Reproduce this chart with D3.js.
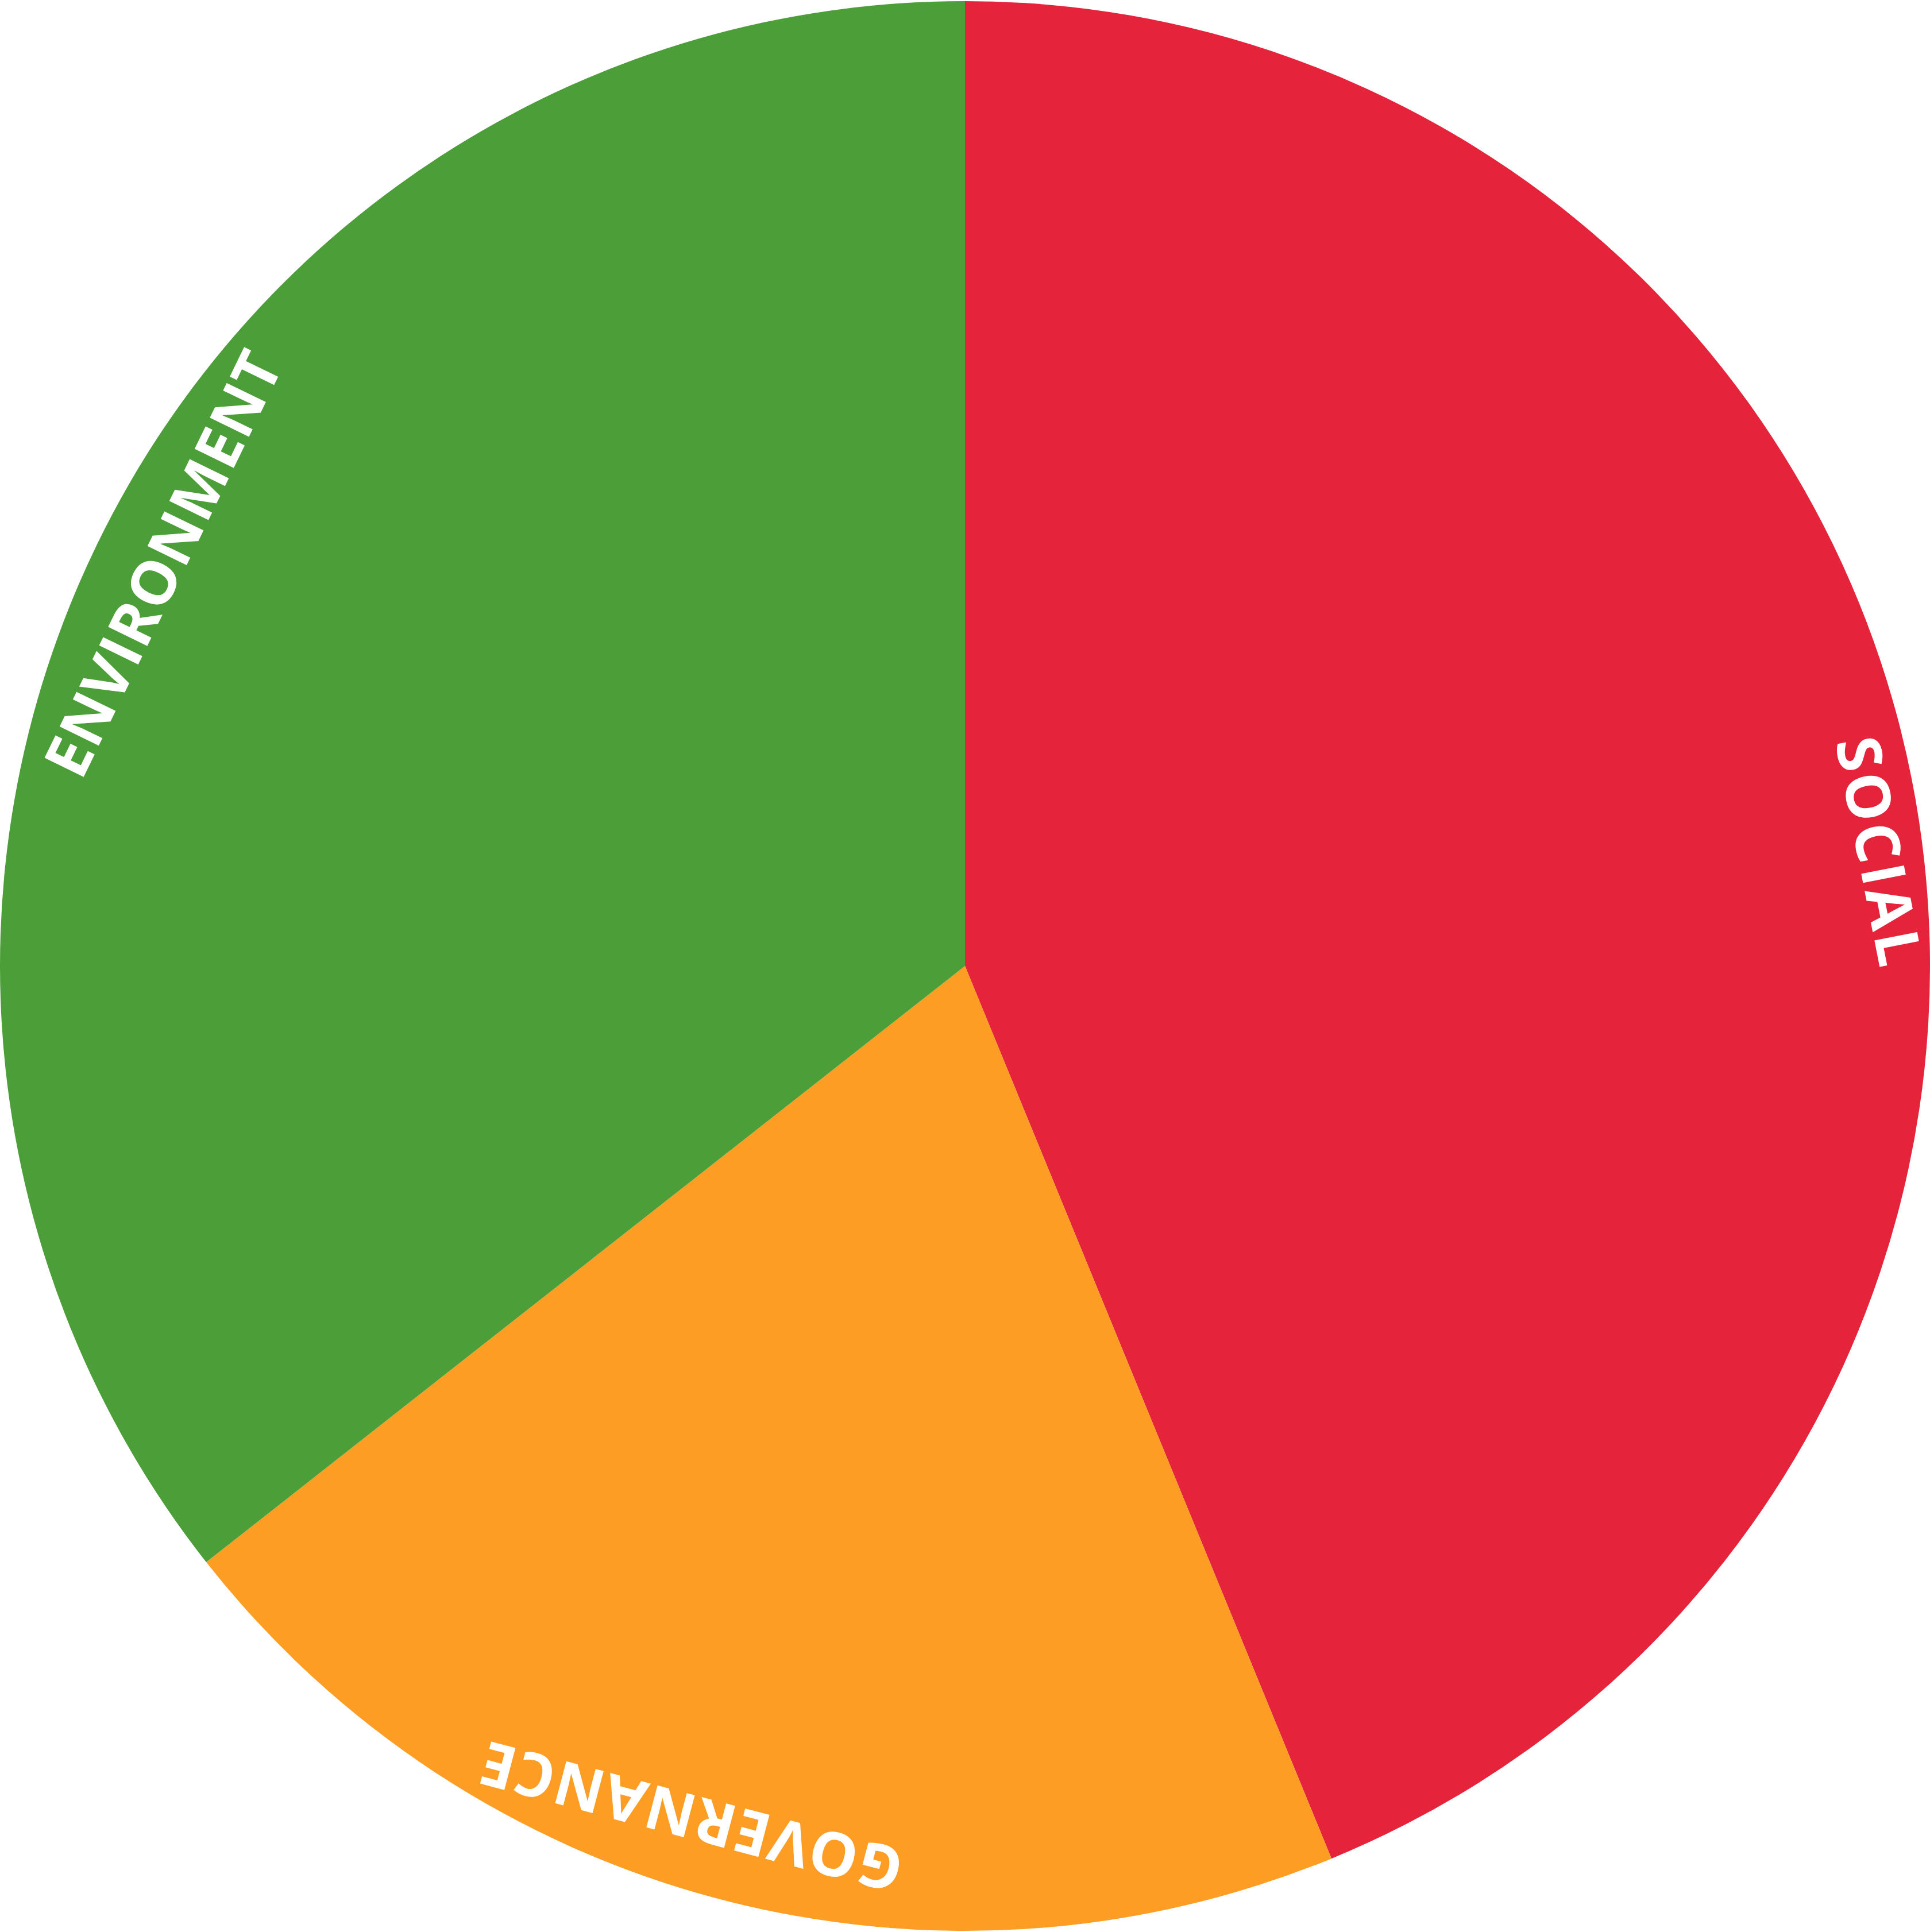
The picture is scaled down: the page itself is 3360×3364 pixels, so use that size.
<!DOCTYPE html>
<html>
<head>
<meta charset="utf-8">
<script src="https://cdn.jsdelivr.net/npm/d3@7"></script>
<style>
  html, body { margin: 0; padding: 0; background: #ffffff; }
  svg { display: block; }
</style>
</head>
<body>
<svg id="chart"></svg>
<script>
// ---- data ----
const categories = ["SOCIAL", "GOVERNANCE", "ENVIRONMENT"];
const values = [43.8, 20.6, 35.6];
const colors = ["#E5243B", "#FD9D24", "#4C9F38"];

// ---- layout / style ----
const W = 3360, H = 3364;
const cx = 1680, cy = 1682, R = 1680;
// label placement tweaks (along-text shift, baseline inset from rim, tracking)
const labelShift = { SOCIAL: 114, GOVERNANCE: 84, ENVIRONMENT: 20 };
const labelInset = { SOCIAL: 118, GOVERNANCE: 164, ENVIRONMENT: 156 };
const labelTracking = { SOCIAL: 5, GOVERNANCE: 2.5, ENVIRONMENT: 1 };

const svg = d3.select("#chart").attr("width", W).attr("height", H);
const g = svg.append("g").attr("transform", `translate(${cx},${cy})`);

const data = categories.map((c, i) => ({ name: c, value: values[i], color: colors[i] }));
const pie = d3.pie().sort(null).value(d => d.value);
const arc = d3.arc().innerRadius(0).outerRadius(R);
const arcs = pie(data);

g.selectAll("path.slice")
  .data(arcs)
  .join("path")
  .attr("class", "slice")
  .attr("d", arc)
  .attr("fill", d => d.data.color);

g.selectAll("text.label")
  .data(arcs)
  .join("text")
  .attr("class", "label")
  .attr("transform", d => {
    const mid = (d.startAngle + d.endAngle) / 2 * 180 / Math.PI;
    return `rotate(${mid}) translate(${labelShift[d.data.name]},${-(R - labelInset[d.data.name])})`;
  })
  .attr("text-anchor", "middle")
  .attr("fill", "#ffffff")
  .style("font-family", "'Open Sans', sans-serif")
  .style("font-weight", 700)
  .style("font-size", "106px")
  .style("letter-spacing", d => labelTracking[d.data.name] + "px")
  .text(d => d.data.name);
</script>
</body>
</html>
